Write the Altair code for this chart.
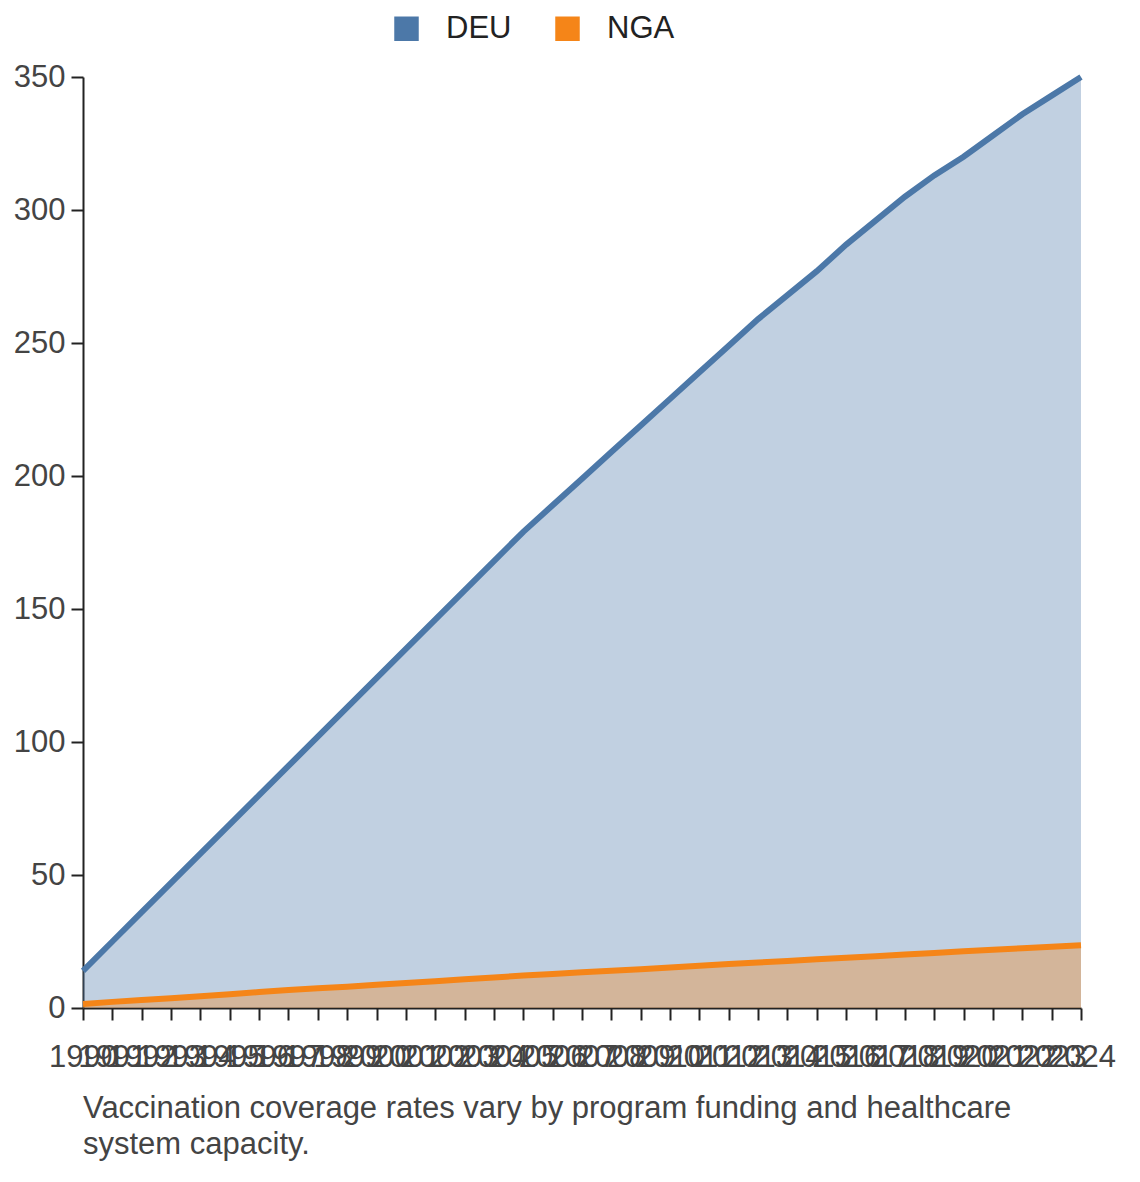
import altair as alt
import pandas as pd

years = list(range(1990, 2025))
deu = [14, 25, 36, 47, 58, 69, 80, 91, 102, 113, 124, 135, 146, 157, 168, 179,
       189, 199, 209, 219, 229, 239, 249, 259, 268, 277, 287, 296, 305, 313,
       320, 328, 336, 343, 350]
nga = [1.5, 2.3, 3.0, 3.7, 4.4, 5.2, 6.0, 6.8, 7.4, 8.0, 8.7, 9.4, 10.1, 10.8,
       11.5, 12.2, 12.8, 13.4, 14.0, 14.6, 15.2, 15.9, 16.5, 17.1, 17.7, 18.3,
       18.9, 19.5, 20.1, 20.7, 21.3, 21.9, 22.5, 23.0, 23.6]

data = pd.DataFrame(
    {"Year": years * 2, "Country": ["DEU"] * len(years) + ["NGA"] * len(years), "Value": deu + nga}
)

font = "Liberation Sans"
x = alt.X(
    "Year:O",
    title=None,
    scale=alt.Scale(padding=0),
    axis=alt.Axis(labelAngle=0, labelOverlap=False, labelFontSize=31, labelColor="#444",
                  labelPadding=22, tickSize=12, domainColor="#222", tickColor="#222",
                  tickWidth=2, domainWidth=2, labelFont=font),
)
y = alt.Y(
    "Value:Q",
    title=None,
    scale=alt.Scale(domain=[0, 350]),
    axis=alt.Axis(grid=False, values=[0, 50, 100, 150, 200, 250, 300, 350], labelFontSize=31,
                  labelColor="#444", tickSize=12, domainColor="#222", tickColor="#222",
                  tickWidth=2, domainWidth=2, labelFont=font, labelPadding=6),
)
color = alt.Color(
    "Country:N",
    scale=alt.Scale(domain=["DEU", "NGA"], range=["#4c78a8", "#f58518"]),
    legend=alt.Legend(orient="none", legendX=308, legendY=-64, direction="horizontal",
                      title=None, symbolType="square", symbolSize=600,
                      labelFontSize=31, labelFont=font, labelColor="#222", columnPadding=40,
                      symbolOpacity=1, labelOffset=24, symbolStrokeWidth=0),
)

base = alt.Chart(data).encode(x=x, color=color)
area = base.mark_area(opacity=0.35).encode(y=alt.Y("Value:Q", stack=None))
line = base.mark_line(strokeWidth=6).encode(y=y)

chart = (
    alt.layer(area, line)
    .properties(
        width=998,
        height=931,
        title=alt.TitleParams(
            ["Vaccination coverage rates vary by program funding and healthcare", "system capacity."],
            orient="bottom", anchor="start", frame="group", fontSize=31, font=font,
            fontWeight="normal", color="#444", offset=22, lineHeight=36,
        ),
    )
    .configure_view(stroke=None)
)

chart.save("out.html", embed_options={"renderer": "svg", "actions": False})
